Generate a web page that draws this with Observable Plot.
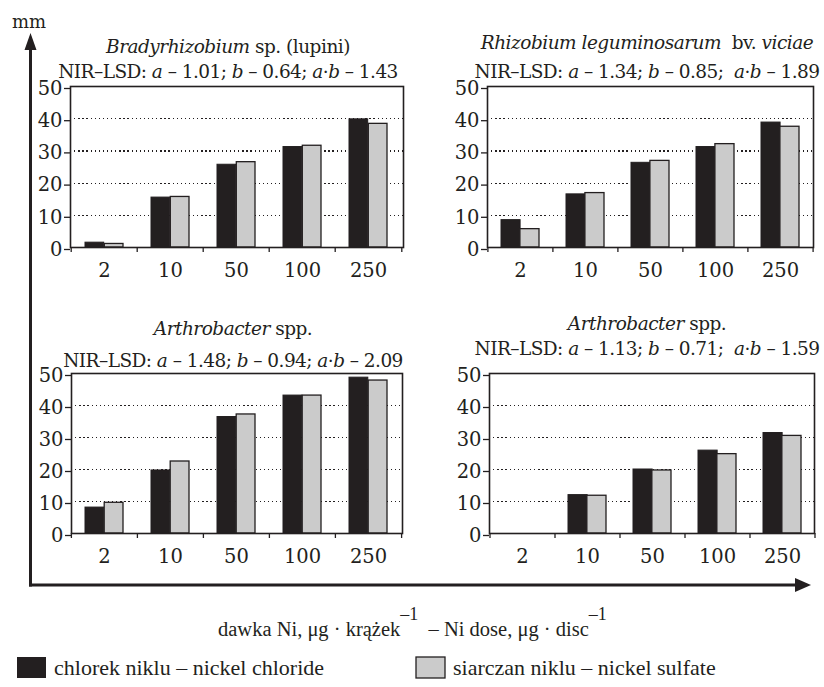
<!DOCTYPE html>
<html><head><meta charset="utf-8">
<script src="https://cdn.jsdelivr.net/npm/d3@7"></script>
<script src="https://cdn.jsdelivr.net/npm/@observablehq/plot@0.6"></script>
<style>
body{margin:0;background:#fff;}
#chart{position:relative;width:824px;height:687px;overflow:hidden;background:#fff;}
#chart > svg.panel{position:absolute;}
#overlay{position:absolute;left:0;top:0;pointer-events:none;}
</style>
</head><body>
<div id="chart"></div>
<script>
// ---- data ----
const doses = ["2", "10", "50", "100", "250"];
const saltLabels = ["chlorek niklu – nickel chloride", "siarczan niklu – nickel sulfate"];
const yTicks = [0, 10, 20, 30, 40, 50];
const gridTicks = [10, 20, 30, 40];

const bradyChloride = [1.5, 15.5, 25.7, 31.2, 39.8];
const bradySulfate  = [1.1, 15.7, 26.5, 31.6, 38.4];
const rhizoChloride = [8.5, 16.5, 26.3, 31.2, 38.8];
const rhizoSulfate  = [5.7, 16.9, 26.9, 32.1, 37.5];
const arthroAChloride = [8.1, 19.7, 36.4, 43.1, 48.7];
const arthroASulfate  = [9.6, 22.5, 37.2, 43.1, 47.8];
const arthroBChloride = [null, 12.0, 20.0, 25.9, 31.4];
const arthroBSulfate  = [null, 11.8, 19.7, 24.8, 30.5];

const titles1 = [
  [["Bradyrhizobium", true], [" sp. (lupini)", false]],
  [["Rhizobium leguminosarum", true], ["  bv. ", false], ["viciae", true]],
  [["Arthrobacter", true], [" spp.", false]],
  [["Arthrobacter", true], [" spp.", false]]
];
const lsdA = ["1.01", "1.34", "1.48", "1.13"];
const lsdB = ["0.64", "0.85", "0.94", "0.71"];
const lsdAB = ["1.43", "1.89", "2.09", "1.59"];
const lsdGap = [" ", "  ", " ", "  "];

// ---- styles / layout ----
const INK = "#231f20", GREY = "#cbcbcb";
const FONT = '"DejaVu Serif", serif';
const FONT2 = '"Liberation Serif", serif';
const frames = [
  {x: 70, y: 86, w: 333, h: 161, cx: 228, t1: 52.5, t2: 77.5},
  {x: 487, y: 86, w: 326, h: 161, cx: 647, t1: 48.5, t2: 77.5},
  {x: 71, y: 373, w: 331, h: 160, cx: 233, t1: 335, t2: 367},
  {x: 489, y: 373, w: 325, h: 160, cx: 647, t1: 330, t2: 355}
];
const series = [
  [bradyChloride, bradySulfate],
  [rhizoChloride, rhizoSulfate],
  [arthroAChloride, arthroASulfate],
  [arthroBChloride, arthroBSulfate]
];

const chart = document.getElementById("chart");
const mL = 45, mR = 10, mT = 10, mB = 42;

series.forEach(([chl, sul], k) => {
  const f = frames[k];
  const step = f.w / doses.length;
  const bw = step * 0.58;
  const rows = doses.map((d, i) => ({dose: d, chl: chl[i], sul: sul[i]}));
  const svg = Plot.plot({
    width: f.w + mL + mR, height: f.h + mT + mB,
    marginLeft: mL, marginRight: mR, marginTop: mT, marginBottom: mB,
    style: {fontFamily: FONT, fontSize: "19px", color: INK, background: "transparent", overflow: "visible"},
    x: {type: "band", domain: doses, paddingInner: 0.42, paddingOuter: 0.21, label: null, axis: null},
    y: {domain: [0, 50], label: null, axis: null},
    marks: [
      Plot.ruleY(gridTicks, {stroke: INK, strokeWidth: 1.2, strokeDasharray: "1.3,2.8", shapeRendering: "crispEdges"}),
      Plot.barY(rows.filter(r => r.chl != null), {x: "dose", y: "chl", fill: INK, stroke: INK, strokeWidth: 1, insetLeft: 0, insetRight: bw / 2}),
      Plot.barY(rows.filter(r => r.sul != null), {x: "dose", y: "sul", fill: GREY, stroke: INK, strokeWidth: 1.3, insetLeft: bw / 2, insetRight: 0}),
      Plot.frame({stroke: INK, strokeWidth: 1.6}),
      Plot.axisY({ticks: yTicks, tickSize: 6, tickPadding: 2, dy: 2, stroke: INK, strokeWidth: 1.3, fill: INK, fontSize: 19.5}),
      Plot.axisX({tickSize: 0, tickPadding: 16, fill: INK, fontSize: 19.5}),
      Plot.axisX({tickSize: 5, tickFormat: () => "", dx: -step / 2, stroke: INK, strokeWidth: 1.3}),
      Plot.axisX({ticks: [doses[doses.length - 1]], tickSize: 5, tickFormat: () => "", dx: step / 2, stroke: INK, strokeWidth: 1.3})
    ]
  });
  svg.classList.add("panel");
  svg.style.left = (f.x - mL) + "px";
  svg.style.top = (f.y - mT) + "px";
  chart.appendChild(svg);
});

// ---- overlay: big axes, titles, x title, legend ----
const NS = "http://www.w3.org/2000/svg";
const ov = document.createElementNS(NS, "svg");
ov.setAttribute("id", "overlay");
ov.setAttribute("width", 824); ov.setAttribute("height", 687);
chart.appendChild(ov);
function el(tag, attrs, parent = ov) {
  const e = document.createElementNS(NS, tag);
  for (const k in attrs) e.setAttribute(k, attrs[k]);
  parent.appendChild(e);
  return e;
}
function tspan(parent, text, attrs = {}) {
  const t = el("tspan", attrs, parent);
  t.textContent = text;
  return t;
}
// axes arrows
el("line", {x1: 30.5, y1: 586.5, x2: 30.5, y2: 46, stroke: INK, "stroke-width": 3});
el("polygon", {points: "30.5,33 24.5,50 36.5,50", fill: INK});
el("line", {x1: 29, y1: 585, x2: 797, y2: 585, stroke: INK, "stroke-width": 3});
el("polygon", {points: "811,585 795,578 795,592", fill: INK});
const mm = el("text", {x: 12, y: 28, "font-family": FONT, "font-size": 18, fill: INK});
mm.textContent = "mm";

// panel titles
frames.forEach((f, k) => {
  const t1 = el("text", {x: f.cx, y: f.t1, "text-anchor": "middle", "font-family": FONT, "font-size": 18.5, "letter-spacing": -0.5, fill: INK, style: "white-space:pre"});
  titles1[k].forEach(([s, it]) => tspan(t1, s, it ? {"font-style": "italic"} : {}));
  const t2 = el("text", {x: f.cx, y: f.t2, "text-anchor": "middle", "font-family": FONT, "font-size": 18.5, "letter-spacing": -0.55, fill: INK, style: "white-space:pre"});
  tspan(t2, "NIR–LSD: ");
  tspan(t2, "a", {"font-style": "italic"});
  tspan(t2, " – " + lsdA[k] + "; ");
  tspan(t2, "b", {"font-style": "italic"});
  tspan(t2, " – " + lsdB[k] + ";" + lsdGap[k]);
  tspan(t2, "a", {"font-style": "italic"});
  tspan(t2, "·");
  tspan(t2, "b", {"font-style": "italic"});
  tspan(t2, " – " + lsdAB[k]);
});

// x title
const xt = el("text", {x: 218, y: 636, "font-family": FONT2, "font-size": 20.5, fill: INK, style: "white-space:pre"});
tspan(xt, "dawka Ni, μg · krążek");
tspan(xt, "–1", {dy: -16, "font-size": 18});
tspan(xt, "  – Ni dose, μg · disc", {dy: 16});
tspan(xt, "–1", {dy: -16, "font-size": 18});

// legend
const legendX = [17, 416];
saltLabels.forEach((lab, i) => {
  el("rect", {x: legendX[i], y: 657, width: 29, height: 21, fill: i === 0 ? INK : GREY, stroke: INK, "stroke-width": i === 0 ? 0 : 1.3});
  const t = el("text", {x: legendX[i] + 37, y: 675, "font-family": FONT2, "font-size": 22, fill: INK});
  t.textContent = lab;
});
</script>
</body></html>
